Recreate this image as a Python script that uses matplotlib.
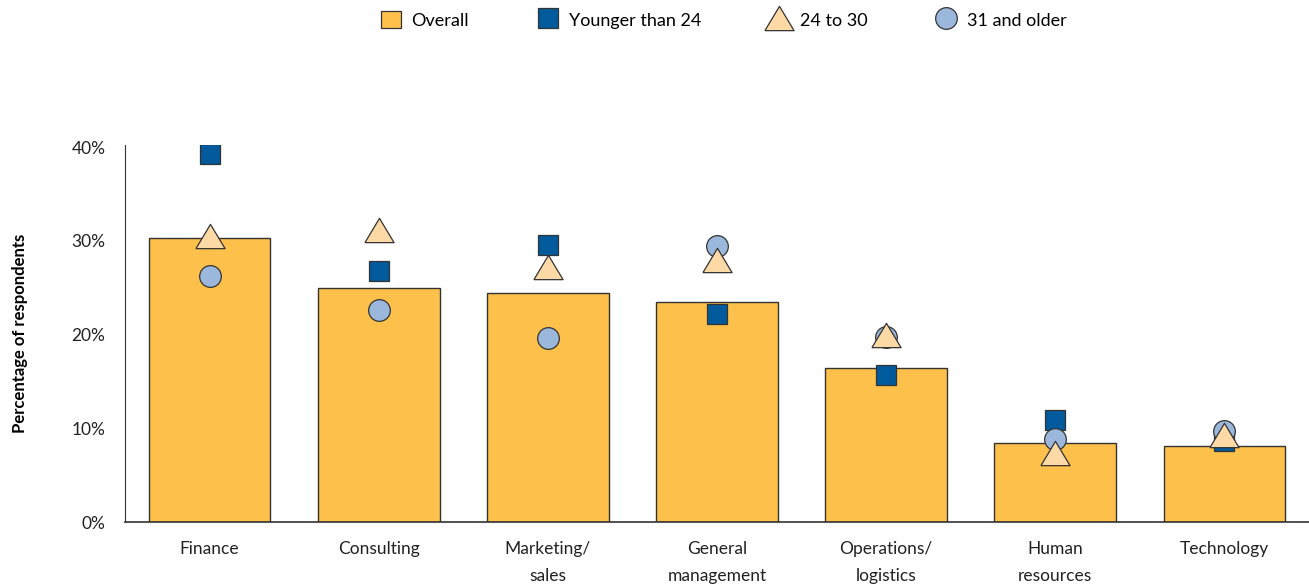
import matplotlib.pyplot as plt
from matplotlib.lines import Line2D
from matplotlib.patches import Patch
import numpy as np

plt.rcParams['font.family'] = ['Lato', 'DejaVu Sans']

categories = ['Finance', 'Consulting', 'Marketing/\nsales', 'General\nmanagement',
              'Operations/\nlogistics', 'Human\nresources', 'Technology']
overall = [30.3, 25.0, 24.4, 23.5, 16.4, 8.4, 8.15]
younger_24 = [39.3, 26.8, 29.6, 22.2, 15.7, 10.9, 8.6]
age_24_30 = [30.5, 31.2, 27.2, 28.0, 19.9, 7.4, 9.3]
age_31_up = [26.2, 22.6, 19.6, 29.4, 19.7, 8.9, 9.7]

bar_color = '#FDC04A'
sq_color = '#005A9C'
tri_color = '#FDD9A5'
circ_color = '#9BB8DC'
edge = '#333333'

# wide triangle marker (wider than tall)
tri_marker = [(-1.2, -1), (1.2, -1), (0, 1), (-1.2, -1)]

fig = plt.figure(figsize=(13.09, 5.87), dpi=100)
ax = fig.add_axes([0.0955, 0.1107, 0.9045, 0.642])

x = np.arange(len(categories))
ax.bar(x, overall, width=0.72, color=bar_color, edgecolor=edge, linewidth=1, zorder=2)
ax.plot(x, younger_24, linestyle='none', marker='s', markersize=14.4,
        markerfacecolor=sq_color, markeredgecolor=edge, markeredgewidth=0.9, zorder=3)
ax.plot(x, age_31_up, linestyle='none', marker='o', markersize=15.6,
        markerfacecolor=circ_color, markeredgecolor=edge, markeredgewidth=0.9, zorder=4)
ax.plot(x, age_24_30, linestyle='none', marker=tri_marker, markersize=21,
        markerfacecolor=tri_color, markeredgecolor=edge, markeredgewidth=0.9, zorder=5)

ax.set_xlim(-0.5, 6.5)
ax.set_ylim(0, 40.2)
ax.set_yticks([0, 10, 20, 30, 40])
ax.set_yticklabels(['0%', '10%', '20%', '30%', '40%'], fontsize=12.5, color='#222222')
ax.set_xticks(x)
ax.set_xticklabels(categories, fontsize=12.5, color='#222222', linespacing=1.8, va='top')
ax.tick_params(axis='x', length=0, pad=14)
ax.tick_params(axis='y', length=0, pad=14)
ax.spines['top'].set_visible(False)
ax.spines['right'].set_visible(False)
ax.spines['left'].set_color(edge)
ax.spines['bottom'].set_color(edge)
ax.spines['bottom'].set_linewidth(1.2)

ax.set_ylabel('Percentage of respondents', fontsize=12, fontweight='bold')
ax.yaxis.set_label_coords(-0.082, 0.5)

handles = [
    Patch(facecolor=bar_color, edgecolor=edge, linewidth=0.9),
    Line2D([], [], linestyle='none', marker='s', markersize=14.4,
           markerfacecolor=sq_color, markeredgecolor=edge, markeredgewidth=0.9),
    Line2D([], [], linestyle='none', marker=tri_marker, markersize=21,
           markerfacecolor=tri_color, markeredgecolor=edge, markeredgewidth=0.9),
    Line2D([], [], linestyle='none', marker='o', markersize=15.6,
           markerfacecolor=circ_color, markeredgecolor=edge, markeredgewidth=0.9),
]
labels = ['Overall', 'Younger than 24', '24 to 30', '31 and older']
fig.legend(handles, labels, loc='center', bbox_to_anchor=(0.553, 0.966), ncol=4,
           frameon=False, fontsize=13, handlelength=1.1, handleheight=1.1,
           handletextpad=0.6, columnspacing=3.8)

plt.savefig('out.png', dpi=100)
